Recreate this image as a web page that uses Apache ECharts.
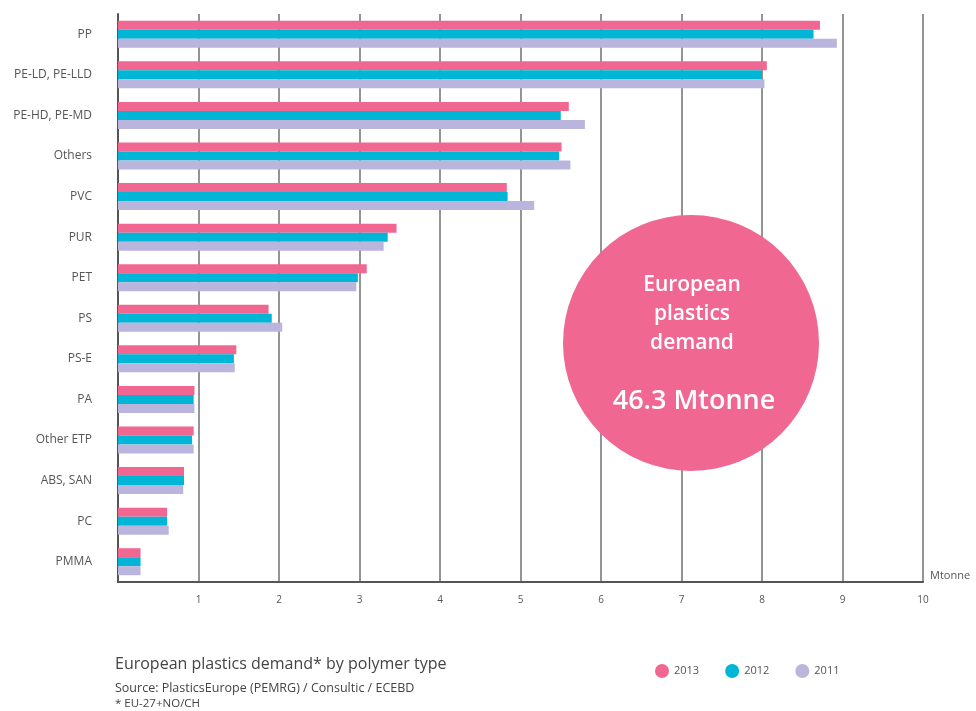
<!DOCTYPE html>
<html><head><meta charset="utf-8">
<script src="https://cdn.jsdelivr.net/npm/echarts@6/dist/echarts.min.js"></script>
<style>html,body{margin:0;padding:0;background:#fff}#c{width:976px;height:711px}</style>
</head><body><div id="c"></div>
<script>
const categories = ['PP','PE-LD, PE-LLD','PE-HD, PE-MD','Others','PVC','PUR','PET','PS','PS-E','PA','Other ETP','ABS, SAN','PC','PMMA'];
const years = ['2013','2012','2011'];
const v2013 = [8.72,8.06,5.60,5.51,4.83,3.46,3.09,1.87,1.47,0.95,0.94,0.82,0.61,0.28];
const v2012 = [8.64,8.00,5.50,5.48,4.84,3.35,2.98,1.91,1.44,0.94,0.92,0.82,0.61,0.28];
const v2011 = [8.93,8.03,5.80,5.62,5.17,3.30,2.96,2.04,1.45,0.95,0.94,0.81,0.63,0.28];
const xTicks = ['', '1','2','3','4','5','6','7','8','9','10'];
const colors = ['#f06892','#00b5d6','#b9b5dc'];
const chart = echarts.init(document.getElementById('c'));
const font = 'Open Sans';
chart.setOption({
  animation:false,
  grid:{left:118,right:53,top:14,bottom:129},
  legend:{
    data:years, left:650, top:659, icon:'circle', itemWidth:14, itemHeight:14, itemGap:26,
    textStyle:{color:'#555',fontFamily:font,fontSize:11}
  },
  xAxis:{
    type:'value', min:0, max:10, interval:1,
    axisLine:{show:true,lineStyle:{color:'#555',width:2}},
    axisTick:{show:false},
    splitLine:{show:true,lineStyle:{color:'#707070',width:1.5}},
    axisLabel:{margin:13,color:'#555',fontSize:10,fontFamily:font,formatter:(v)=>xTicks[Math.round(v)]}
  },
  yAxis:{
    type:'category', data:categories, inverse:true,
    axisLine:{show:true,lineStyle:{color:'#555',width:2}},
    axisTick:{show:false},
    axisLabel:{margin:26,color:'#555',fontSize:12,fontFamily:font}
  },
  series:[
    {name:years[0],type:'bar',data:v2013,barWidth:9,barGap:'0%',itemStyle:{color:colors[0]}},
    {name:years[1],type:'bar',data:v2012,barWidth:9,barGap:'0%',itemStyle:{color:colors[1]}},
    {name:years[2],type:'bar',data:v2011,barWidth:9,barGap:'0%',itemStyle:{color:colors[2]}}
  ],
  graphic:[
    {type:'circle',shape:{cx:691,cy:343,r:128},style:{fill:'#f06892'},z:10},
    {type:'text',x:692,y:314,z:11,style:{text:'European\nplastics\ndemand',fill:'#fff',font:'600 21px "Open Sans"',align:'center',verticalAlign:'middle',lineHeight:29}},
    {type:'text',x:694,y:401,z:11,style:{text:'46.3 Mtonne',fill:'#fff',font:'600 27px "Open Sans"',align:'center',verticalAlign:'middle'}},
    {type:'text',x:930,y:576,style:{text:'Mtonne',fill:'#555',font:'11px "Open Sans"',verticalAlign:'middle'}},
    {type:'text',x:115,y:664,style:{text:'European plastics demand* by polymer type',fill:'#444',font:'16px "Open Sans"',verticalAlign:'middle'}},
    {type:'text',x:115,y:688,style:{text:'Source: PlasticsEurope (PEMRG) / Consultic / ECEBD',fill:'#444',font:'12.5px "Open Sans"',verticalAlign:'middle'}},
    {type:'text',x:115,y:704,style:{text:'* EU-27+NO/CH',fill:'#444',font:'11.5px "Open Sans"',verticalAlign:'middle'}}
  ]
});
</script></body></html>
